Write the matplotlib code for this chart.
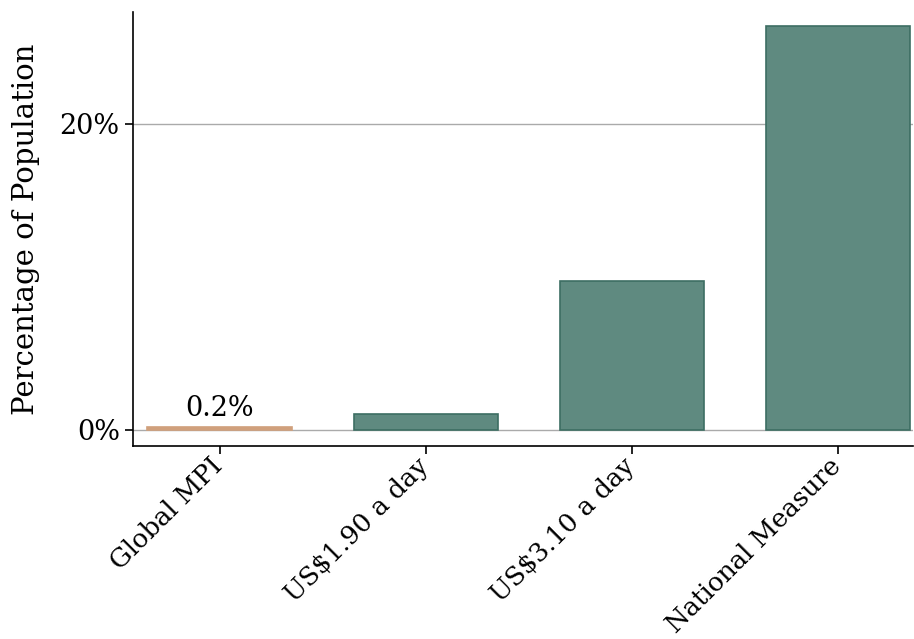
import matplotlib
matplotlib.use("Agg")
import matplotlib.pyplot as plt
import matplotlib.transforms as mtransforms
from matplotlib.ticker import FuncFormatter

# data
categories = ["Global MPI", "US$1.90 a day", "US$3.10 a day", "National Measure"]
values = [0.2, 1.05, 9.7, 26.4]
bar_colors = ["#d0a07c", "#5f8a80", "#5f8a80", "#5f8a80"]
edge_colors = ["#d0a07c", "#3d6e63", "#3d6e63", "#3d6e63"]

plt.rcParams["font.family"] = "DejaVu Serif"

fig = plt.figure(figsize=(9.14, 6.39), dpi=100)
ax = fig.add_axes([133 / 914, 1 - 446 / 639, 780 / 914, 434 / 639])

x = list(range(len(categories)))
ax.bar(x, values, width=0.7, color=bar_colors, edgecolor=edge_colors, linewidth=1.2, zorder=3)

# label only the tiny one
ax.text(0, values[0] + 0.3, "0.2%", ha="center", va="bottom", fontsize=19.5)

ax.set_xlim(-0.42, 3.365)
ax.set_ylim(-1.05, 27.3)
ax.set_yticks([0, 20])
ax.yaxis.set_major_formatter(FuncFormatter(lambda v, p: f"{v:.0f}%"))
ax.grid(axis="y", color="#aaaaaa", linewidth=1, zorder=0)
ax.set_axisbelow(True)

ax.set_xticks(x)
ax.set_xticklabels(categories, rotation=45, ha="right", fontsize=18.6)
ax.tick_params(axis="y", labelsize=19.5, length=6, width=1.2)
ax.tick_params(axis="x", length=6, width=1.2, pad=2)
ax.set_ylabel("Percentage of Population", fontsize=21, labelpad=14)

# nudge the rotated labels a bit right/up so they end at the tick
offset = mtransforms.ScaledTranslation(8 / 100, 4 / 100, fig.dpi_scale_trans)
for lbl in ax.get_xticklabels():
    lbl.set_transform(lbl.get_transform() + offset)

for s in ["top", "right"]:
    ax.spines[s].set_visible(False)
ax.spines["left"].set_linewidth(1.2)
ax.spines["bottom"].set_linewidth(1.2)

fig.savefig("out.png", dpi=100)
